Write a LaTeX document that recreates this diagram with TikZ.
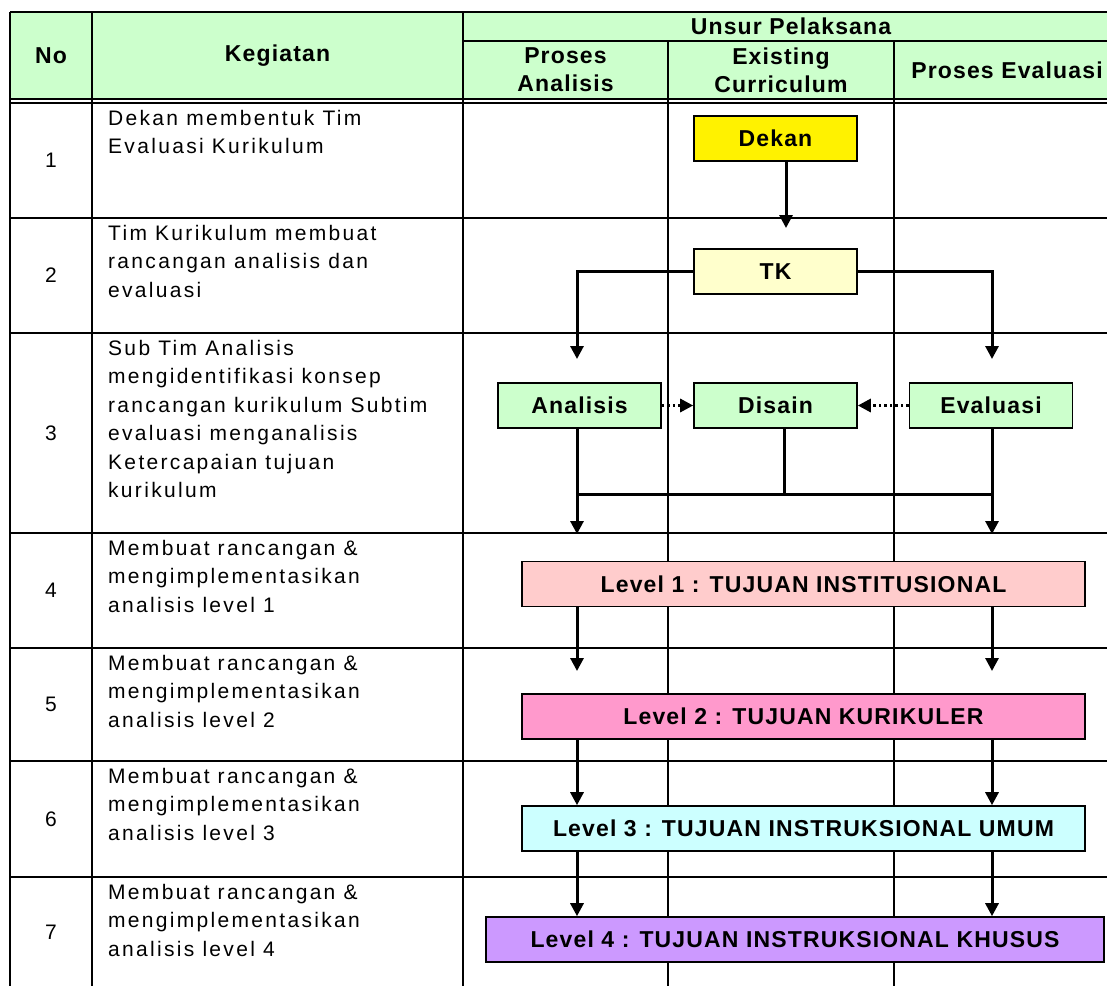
\documentclass[tikz,border=0pt]{standalone}
\usepackage{fontspec}
\setmainfont[LetterSpace=11]{Liberation Sans}
\newfontfamily\hdfont[LetterSpace=5]{Liberation Sans}
\usepackage{xcolor}
\usetikzlibrary{arrows.meta,positioning}
\definecolor{hdgreen}{HTML}{CCFFCC}
\definecolor{tkyel}{HTML}{FFFFCC}
\definecolor{lvpink}{HTML}{FFCCCC}
\definecolor{lvrose}{HTML}{FF99CC}
\definecolor{lvcyan}{HTML}{CCFFFF}
\definecolor{lvlila}{HTML}{CC99FF}
\newcommand{\tf}{\fontsize{21}{28.5}\selectfont}
\newcommand{\bft}{\hdfont\bfseries\fontsize{23}{28}\selectfont}
\tikzset{
    grd/.style={line width=1.6pt, draw=black},
    bx/.style={draw=black, line width=1.6pt, inner sep=0pt, minimum width=163pt, minimum height=45pt, font=\bft},
    lvl/.style={bx, minimum width=563pt},
    arr/.style={line width=3pt, -{Triangle[width=13pt,length=13pt]}},
    ln/.style={line width=3pt},
    dts/.style={line width=3pt, dash pattern=on 2.5pt off 3pt, -{Triangle[width=13pt,length=13pt]}},
    cel/.style={anchor=north west, align=left, inner sep=0pt, font=\tf},
    hd/.style={align=center, inner sep=0pt, font=\bft}
}

\begin{document}
\begin{tikzpicture}[x=1pt, y=-1pt]
    \useasboundingbox (0,0) rectangle (1107,985);
    \clip (0,0) rectangle (1107,985);

    % header
    \fill[hdgreen] (10,12) rectangle (1120,99);
    \draw[grd]
    (10,12) -- (1120,12)
    (463,41) -- (1120,41)
    (10,99) -- (1120,99)
    (10,103) -- (1120,103)
    (10,12) -- (10,990)
    (92,12) -- (92,990)
    (463,12) -- (463,990)
    (668,41) -- (668,990)
    (894,41) -- (894,990);
    \foreach \y in {218,333,533,648,761,877}
        \draw[grd] (10,\y) -- (1120,\y);

    \node[hd] (hno) at (51,56) {No};
    \node[hd] (hkeg) at (277.5,56) {Kegiatan};
    \node[hd] (hunsur) at (791,26) {Unsur Pelaksana};
    \node[hd] (hana) at (565.5,70) {Proses\\Analisis};
    \node[hd] (hexi) at (781,70) {Existing\\Curriculum};
    \node[hd] (heva) at (1007,70) {Proses Evaluasi};

    % rows
    \foreach \ya/\yb/\txt [count=\i] in {
        103/218/{Dekan membentuk Tim\\Evaluasi Kurikulum},
        218/333/{Tim Kurikulum membuat\\rancangan analisis dan\\evaluasi},
        333/533/{Sub Tim Analisis\\mengidentifikasi konsep\\rancangan kurikulum Subtim\\evaluasi menganalisis\\Ketercapaian tujuan\\kurikulum},
        533/648/{Membuat rancangan \&\\mengimplementasikan\\analisis level 1},
        648/761/{Membuat rancangan \&\\mengimplementasikan\\analisis level 2},
        761/877/{Membuat rancangan \&\\mengimplementasikan\\analisis level 3},
        877/987/{Membuat rancangan \&\\mengimplementasikan\\analisis level 4}}
    {
        \node[font=\tf, inner sep=0pt] (n\i) at (51,{(\ya+\yb)/2}) {\i};
        \node[cel] (k\i) at (108,\ya+6) {\rule{0pt}{16pt}\txt};
    }

    % boxes
    \node[bx, fill=yellow] (dekan) at (775.5,138.5) {Dekan};
    \node[bx, fill=tkyel] (tk) at (775.5,271.5) {TK};
    \node[bx, fill=hdgreen] (ana) at (579.5,405.5) {Analisis};
    \node[bx, fill=hdgreen] (dis) at (775.5,405.5) {Disain};
    \node[bx, fill=hdgreen] (eva) at (991,405.5) {Evaluasi};
    \node[lvl, fill=lvpink] (lv1) at (803.5,584) {Level 1 : TUJUAN INSTITUSIONAL};
    \node[lvl, fill=lvrose] (lv2) at (803.5,716.5) {Level 2 : TUJUAN KURIKULER};
    \node[lvl, fill=lvcyan] (lv3) at (803.5,828.5) {Level 3 : TUJUAN INSTRUKSIONAL UMUM};
    \node[lvl, fill=lvlila, minimum width=618pt] (lv4) at (795,939.5) {Level 4 : TUJUAN INSTRUKSIONAL KHUSUS};

    \coordinate (d1) at (786,228);
    \coordinate (a1) at (577,359);
    \coordinate (e1) at (992,359);
    \coordinate (a2) at (577,534);
    \coordinate (e2) at (992,534);
    \coordinate (jn) at (784,494);
    \coordinate (a3) at (577,671);
    \coordinate (e3) at (992,671);

    \draw[arr] (dekan.south -| d1) -- (d1);
    \draw[arr] (tk.west) -| (a1);
    \draw[arr] (tk.east) -| (e1);
    \draw[dts] (ana.east) -- (dis.west);
    \draw[dts] (eva.west) -- (dis.east);
    \draw[arr] (ana.south -| a2) -- (a2);
    \draw[arr] (eva.south -| e2) -- (e2);
    \draw[ln] (dis.south -| jn) -- (jn);
    \draw[ln] (a2 |- jn) -- (e2 |- jn);
    \draw[arr] (lv1.south -| a3) -- (a3);
    \draw[arr] (lv1.south -| e3) -- (e3);
    \draw[arr] (lv2.south -| a3) -- (lv3.north -| a3);
    \draw[arr] (lv2.south -| e3) -- (lv3.north -| e3);
    \draw[arr] (lv3.south -| a3) -- (lv4.north -| a3);
    \draw[arr] (lv3.south -| e3) -- (lv4.north -| e3);
\end{tikzpicture}
\end{document}
